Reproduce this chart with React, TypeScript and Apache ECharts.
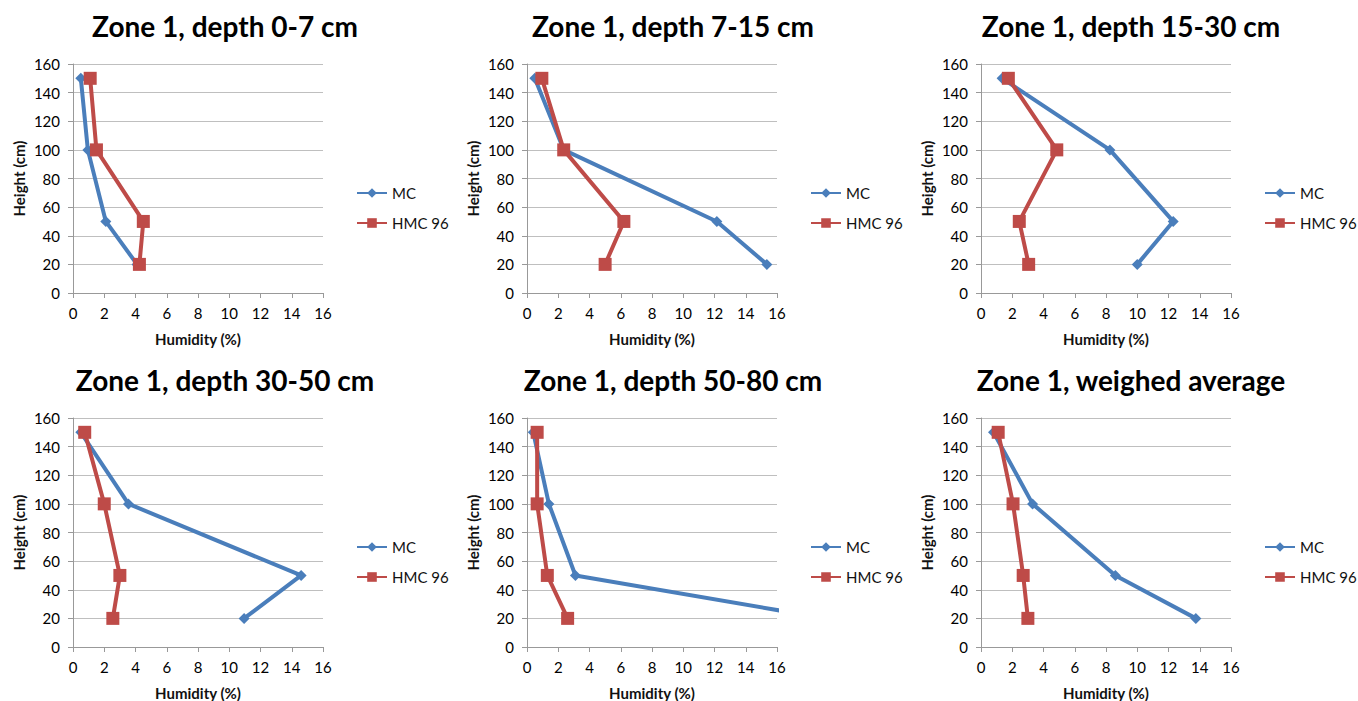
import React, { useEffect, useRef } from "react";
import * as echarts from "echarts";

const heights = [150, 100, 50, 20];
const xTicks = [0, 2, 4, 6, 8, 10, 12, 14, 16];
const yTicks = [0, 20, 40, 60, 80, 100, 120, 140, 160];

const titles = [
  "Zone 1, depth 0-7 cm",
  "Zone 1, depth 7-15 cm",
  "Zone 1, depth 15-30 cm",
  "Zone 1, depth 30-50 cm",
  "Zone 1, depth 50-80 cm",
  "Zone 1, weighed average",
];

const mc_0_7 = [0.5, 0.95, 2.1, 4.1];
const hmc_0_7 = [1.1, 1.5, 4.5, 4.25];
const mc_7_15 = [0.5, 2.35, 12.15, 15.35];
const hmc_7_15 = [0.95, 2.35, 6.2, 5.0];
const mc_15_30 = [1.35, 8.25, 12.3, 10.0];
const hmc_15_30 = [1.75, 4.85, 2.45, 3.05];
const mc_30_50 = [0.5, 3.55, 14.6, 10.95];
const hmc_30_50 = [0.75, 2.0, 3.0, 2.55];
const mc_50_80 = [0.4, 1.4, 3.1, 19.1];
const hmc_50_80 = [0.65, 0.65, 1.3, 2.6];
const mc_avg = [0.8, 3.3, 8.6, 13.75];
const hmc_avg = [1.1, 2.05, 2.7, 3.0];

const mcSets = [mc_0_7, mc_7_15, mc_15_30, mc_30_50, mc_50_80, mc_avg];
const hmcSets = [hmc_0_7, hmc_7_15, hmc_15_30, hmc_30_50, hmc_50_80, hmc_avg];

const BLUE = "#4A7EBB";
const RED = "#BE4B48";
const FONT = "Lato, 'Open Sans', sans-serif";

export default function App() {
  const ref = useRef<HTMLDivElement>(null);
  useEffect(() => {
    document.body.style.margin = "0";
    const chart = echarts.init(ref.current!, null, { renderer: "svg" });
    const colLeft = [73, 527, 981];
    const rowTop = [64, 418];
    const titleX = [225, 673, 1131];
    const titleY = [26, 380];
    const gW = 250;
    const gH = 229;

    const grids: any[] = [];
    const xAxes: any[] = [];
    const yAxes: any[] = [];
    const series: any[] = [];
    const legends: any[] = [];
    const graphics: any[] = [];

    for (let i = 0; i < 6; i++) {
      const c = i % 3;
      const r = Math.floor(i / 3);
      grids.push({ left: colLeft[c], top: rowTop[r], width: gW, height: gH });
      xAxes.push({
        type: "value",
        gridIndex: i,
        min: xTicks[0],
        max: xTicks[xTicks.length - 1],
        interval: 2,
        name: "Humidity (%)",
        nameLocation: "middle",
        nameGap: 38,
        nameTextStyle: { fontFamily: FONT, fontWeight: "bold", fontSize: 15, color: "#111" },
        axisLine: { show: true, lineStyle: { color: "#999", width: 1 } },
        axisTick: { show: true, length: 5, lineStyle: { color: "#999" } },
        axisLabel: { fontFamily: FONT, fontSize: 15, color: "#000", margin: 12 },
        splitLine: { show: false },
      });
      yAxes.push({
        type: "value",
        gridIndex: i,
        min: yTicks[0],
        max: yTicks[yTicks.length - 1],
        interval: 20,
        name: "Height (cm)",
        nameLocation: "middle",
        nameRotate: 90,
        nameGap: 47,
        nameTextStyle: { fontFamily: FONT, fontWeight: "bold", fontSize: 15, color: "#111" },
        axisLine: { show: true, lineStyle: { color: "#999", width: 1 } },
        axisTick: { show: true, length: 5, lineStyle: { color: "#999" } },
        axisLabel: { fontFamily: FONT, fontSize: 15, color: "#000", margin: 13 },
        splitLine: { show: true, lineStyle: { color: "#BFBFBF", width: 1 } },
      });
      series.push({
        type: "line",
        name: "MC",
        xAxisIndex: i,
        yAxisIndex: i,
        data: mcSets[i].map((v, k) => [v, heights[k]]),
        symbol: "diamond",
        symbolSize: 11,
        itemStyle: { color: BLUE },
        lineStyle: { color: BLUE, width: 4 },
        clip: true,
        z: 2,
      });
      series.push({
        type: "line",
        name: "HMC 96",
        xAxisIndex: i,
        yAxisIndex: i,
        data: hmcSets[i].map((v, k) => [v, heights[k]]),
        symbol: "rect",
        symbolSize: 13,
        itemStyle: { color: RED },
        lineStyle: { color: RED, width: 4 },
        clip: true,
        z: 3,
      });
      legends.push({
        data: ["MC", "HMC 96"],
        orient: "vertical",
        left: colLeft[c] + 283,
        top: rowTop[r] + 121,
        padding: 0,
        itemGap: 14,
        itemWidth: 30,
        itemHeight: 12,
        textStyle: { fontFamily: FONT, fontSize: 15, lineHeight: 16, color: "#111" },
        selectedMode: false,
      });
      graphics.push({
        type: "text",
        x: titleX[c],
        y: titleY[r],
        style: {
          text: titles[i],
          x: 0,
          y: 0,
          textAlign: "center",
          textVerticalAlign: "middle",
          font: `bold 28px ${FONT}`,
          fill: "#000",
        },
      });
    }

    chart.setOption({
      animation: false,
      backgroundColor: "#fff",
      grid: grids,
      xAxis: xAxes,
      yAxis: yAxes,
      series,
      legend: legends,
      graphic: graphics,
    });
    return () => chart.dispose();
  }, []);
  return (
    <div
      ref={ref}
      style={{ position: "absolute", left: 0, top: 0, width: 1358, height: 701 }}
    />
  );
}
